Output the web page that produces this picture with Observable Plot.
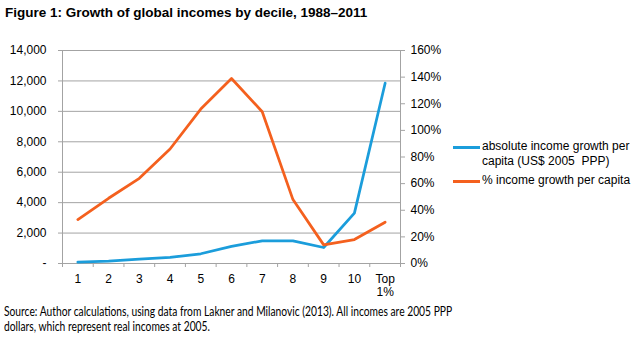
<!DOCTYPE html>
<html>
<head>
<meta charset="utf-8">
<script src="https://cdn.jsdelivr.net/npm/d3@7"></script>
<script src="https://cdn.jsdelivr.net/npm/@observablehq/plot@0.6"></script>
<style>
  html, body { margin: 0; padding: 0; background: #fff; }
  #wrap { position: relative; width: 640px; height: 340px; overflow: hidden; font-family: "Liberation Sans", Arial, sans-serif; }
  #title { position: absolute; left: 5px; top: 5px; font-weight: bold; font-size: 13.5px; color: #000; white-space: nowrap; }
  #chart { position: absolute; left: 0; top: 0; }
  #legend { position: absolute; left: 453px; top: 139px; font-size: 12px; color: #000; white-space: pre; }
  .li { position: relative; padding-left: 29px; line-height: 15px; }
  .sw { position: absolute; left: 0; top: 7px; width: 27px; height: 3px; }
  #caption { position: absolute; left: 4px; top: 304px; font-family: Lato, "Open Sans", sans-serif; font-size: 13px; line-height: 15px; color: #000; white-space: nowrap; transform: scaleX(0.79); transform-origin: 0 0; }
</style>
</head>
<body>
<div id="wrap">
  <div id="chart"></div>
  <div id="title">Figure 1: Growth of global incomes by decile, 1988–2011</div>
  <div id="legend"></div>
  <div id="caption">Source: Author calculations, using data from Lakner and Milanovic (2013). All incomes are 2005 PPP<br>dollars, which represent real incomes at 2005.</div>
</div>
<script>
// Data
const categories = ["1", "2", "3", "4", "5", "6", "7", "8", "9", "10", "Top\n1%"];
const absoluteGrowth = [90, 150, 280, 400, 640, 1120, 1490, 1490, 1050, 3310, 11850];
const percentGrowth = [33, 49, 64, 86, 116, 139, 114, 48, 14, 18, 31];
const leftTicks = [0, 2000, 4000, 6000, 8000, 10000, 12000, 14000];
const rightTicks = [0, 20, 40, 60, 80, 100, 120, 140, 160];
const seriesNames = ["absolute income growth per\ncapita (US$ 2005  PPP)", "% income growth per capita"];
const colors = ["#1b9ddb", "#f4601e"];

const leftMax = 14000, rightMax = 160, k = leftMax / rightMax;
const rows = [];
categories.forEach((c, i) => {
  rows.push({series: seriesNames[0], x: i + 1, y: absoluteGrowth[i]});
});
categories.forEach((c, i) => {
  rows.push({series: seriesNames[1], x: i + 1, y: percentGrowth[i] * k});
});
const idx = categories.map((c, i) => i + 1);
const bounds = d3.range(0.5, categories.length + 1, 1);

const grid = "#a3a3a3";
const chart = Plot.plot({
  width: 640,
  height: 300,
  marginTop: 50,
  marginBottom: 37,
  marginLeft: 62,
  marginRight: 240,
  style: {fontFamily: "'Liberation Sans', Arial, sans-serif", fontSize: "12px", color: "#000", background: "transparent"},
  x: {type: "linear", domain: [0.5, categories.length + 0.5]},
  y: {domain: [0, leftMax]},
  color: {domain: seriesNames, range: colors},
  marks: [
    Plot.gridY(leftTicks, {stroke: grid, strokeOpacity: 1, strokeWidth: 1}),
    Plot.ruleX([0.5, categories.length + 0.5], {stroke: grid, strokeWidth: 1}),
    Plot.ruleY([0], {stroke: grid, strokeWidth: 1}),
    Plot.axisY({anchor: "left", ticks: leftTicks, tickSize: 4, tickPadding: 12, stroke: grid,
      tickFormat: d => d === 0 ? "-" : d3.format(",")(d), label: null}),
    Plot.axisY({anchor: "right", ticks: rightTicks.map(v => v * k), tickSize: 4, tickPadding: 6, stroke: grid,
      tickFormat: d => Math.round(d / k) + "%", label: null}),
    Plot.axisX({ticks: bounds, tickSize: 4, stroke: grid, tickFormat: () => "", label: null}),
    Plot.axisX({ticks: idx, tickSize: 0, tickPadding: 10, tickFormat: d => categories[d - 1], label: null, lineHeight: 1.1}),
    Plot.line(rows, {x: "x", y: "y", z: "series", stroke: "series", strokeWidth: 2.75, strokeLinejoin: "round"})
  ]
});
document.getElementById("chart").appendChild(chart);

const legend = document.getElementById("legend");
seriesNames.forEach((name, i) => {
  const item = document.createElement("div");
  item.className = "li";
  item.style.marginBottom = i === 0 ? "4px" : "0";
  const sw = document.createElement("div");
  sw.className = "sw";
  sw.style.background = colors[i];
  item.appendChild(sw);
  name.split("\n").forEach((t, j) => {
    if (j) item.appendChild(document.createElement("br"));
    item.appendChild(document.createTextNode(t));
  });
  legend.appendChild(item);
});
</script>
</body>
</html>
